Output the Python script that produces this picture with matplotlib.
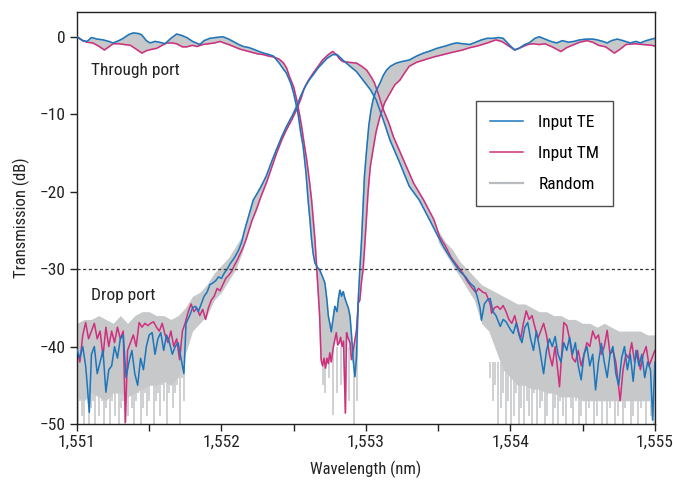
import numpy as np
import matplotlib
matplotlib.use("Agg")
import matplotlib.pyplot as plt
from matplotlib import font_manager as fm
from matplotlib.ticker import FuncFormatter, MultipleLocator

_names = {f.name for f in fm.fontManager.ttflist}
_cond = [f.name for f in fm.fontManager.ttflist if str(f.stretch) in ('condensed', 'semi-condensed', '75', '87.5')]
_fam = None
for cand in ['Liberation Sans Narrow', 'Roboto Condensed', 'Open Sans Condensed', 'DejaVu Sans Condensed']:
    if cand in _names:
        _fam = cand
        break
_stretch = 'normal'
if _fam is None and 'DejaVu Sans' in _cond:
    _fam = 'DejaVu Sans'
    _stretch = 'condensed'
if _fam is None:
    _fam = 'Roboto' if 'Roboto' in _names else 'Liberation Sans'
plt.rcParams['font.family'] = [_fam, 'DejaVu Sans']
plt.rcParams['font.stretch'] = _stretch

# ---------------- data ----------------
thr_te_x = [1551.00,1551.04,1551.07,1551.10,1551.14,1551.18,1551.22,1551.25,1551.29,1551.32,1551.36,1551.39,1551.43,1551.45,1551.48,1551.505,1551.54,1551.57,1551.61,1551.65,1551.69,1551.72,1551.76,1551.80,1551.85,1551.88,1551.92,1551.96,1552.01,1552.05,1552.08,1552.12,1552.15,1552.19,1552.22,1552.26,1552.29,1552.33,1552.36,1552.40,1552.43,1552.45,1552.48,1552.50,1552.53,1552.55,1552.566,1552.585,1552.60,1552.612,1552.624,1552.635,1552.647,1552.665,1552.68,1552.70,1552.716,1552.73,1552.74,1552.752,1552.76,1552.772,1552.785,1552.80,1552.81,1552.82,1552.832,1552.843,1552.855,1552.866,1552.878,1552.89,1552.90,1552.912,1552.924,1552.935,1552.947,1552.958,1552.97,1552.98,1552.99,1553.005,1553.02,1553.035,1553.05,1553.07,1553.097,1553.12,1553.143,1553.17,1553.21,1553.25,1553.30,1553.35,1553.40,1553.45,1553.49,1553.55,1553.60,1553.63,1553.67,1553.72,1553.76,1553.80,1553.84,1553.88,1553.92,1553.95,1553.99,1554.03,1554.06,1554.10,1554.13,1554.17,1554.20,1554.24,1554.28,1554.32,1554.36,1554.40,1554.44,1554.48,1554.53,1554.57,1554.60,1554.64,1554.67,1554.70,1554.74,1554.78,1554.83,1554.87,1554.90,1554.94,1554.98,1555.00]
thr_te_y = [0.0,-0.5,-0.6,-0.1,-0.3,-0.4,-0.6,-0.8,-0.5,-0.2,0.3,0.5,0.4,0.2,-0.5,-0.8,-0.6,-0.7,-0.9,-0.2,0.35,0.2,-0.1,-0.6,-1.0,-0.5,-0.2,-0.1,0.0,-0.3,-0.6,-1.0,-1.25,-1.4,-1.6,-1.9,-2.1,-2.3,-2.5,-3.4,-4.2,-4.7,-6.0,-7.3,-9.9,-12.5,-14.2,-17.5,-21.1,-23.5,-26.2,-28.0,-29.2,-29.8,-30.1,-31.0,-31.8,-34.0,-36.1,-37.2,-38.1,-36.5,-34.8,-35.5,-33.8,-32.7,-33.5,-32.9,-33.8,-34.4,-35.0,-36.1,-38.5,-41.7,-43.9,-41.3,-34.0,-30.1,-26.2,-22.0,-18.0,-14.6,-11.5,-9.5,-8.1,-7.0,-6.0,-5.0,-4.3,-3.8,-3.4,-3.2,-3.0,-2.5,-2.1,-1.8,-1.5,-1.2,-0.9,-0.8,-0.9,-1.0,-0.7,-0.4,-0.2,-0.2,-0.1,-0.2,-1.0,-1.7,-1.5,-1.0,-0.8,-0.2,0.0,-0.3,-0.6,-0.8,-0.5,-0.7,-0.6,-0.4,-0.3,-0.3,-0.4,-0.6,-0.8,-0.5,-0.3,-0.5,-0.8,-0.6,-0.8,-0.5,-0.3,-0.2]

thr_tm_x = [1551.00,1551.04,1551.07,1551.11,1551.15,1551.19,1551.22,1551.25,1551.29,1551.33,1551.37,1551.41,1551.45,1551.48,1551.52,1551.55,1551.58,1551.62,1551.66,1551.69,1551.73,1551.76,1551.80,1551.83,1551.87,1551.91,1551.95,1551.99,1552.02,1552.05,1552.09,1552.13,1552.17,1552.21,1552.25,1552.29,1552.33,1552.36,1552.40,1552.43,1552.45,1552.47,1552.50,1552.52,1552.54,1552.555,1552.57,1552.59,1552.61,1552.624,1552.635,1552.647,1552.659,1552.67,1552.68,1552.69,1552.70,1552.71,1552.72,1552.73,1552.74,1552.75,1552.76,1552.775,1552.785,1552.795,1552.805,1552.815,1552.825,1552.835,1552.845,1552.858,1552.866,1552.875,1552.89,1552.90,1552.912,1552.925,1552.935,1552.947,1552.958,1552.97,1552.98,1552.99,1553.00,1553.015,1553.03,1553.05,1553.07,1553.097,1553.13,1553.166,1553.20,1553.235,1553.27,1553.30,1553.35,1553.40,1553.47,1553.535,1553.60,1553.67,1553.72,1553.77,1553.84,1553.90,1553.94,1553.99,1554.03,1554.07,1554.12,1554.16,1554.20,1554.24,1554.29,1554.35,1554.39,1554.44,1554.48,1554.53,1554.57,1554.61,1554.66,1554.72,1554.76,1554.80,1554.86,1554.92,1554.98,1555.00]
thr_tm_y = [0.0,-0.5,-0.7,-0.8,-1.2,-1.7,-1.3,-0.9,-0.9,-1.0,-1.1,-1.6,-2.1,-1.8,-1.6,-1.5,-1.2,-0.8,-0.8,-0.9,-1.3,-1.3,-1.1,-1.25,-1.0,-0.9,-0.8,-0.6,-0.8,-1.0,-1.3,-1.6,-1.8,-2.0,-2.2,-2.3,-2.5,-2.6,-2.9,-3.4,-4.0,-5.1,-6.5,-8.1,-10.0,-11.6,-13.5,-15.9,-18.8,-21.1,-23.5,-26.2,-29.7,-33.0,-36.1,-41.7,-42.5,-41.5,-42.8,-41.5,-42.2,-40.8,-42.0,-40.0,-39.1,-38.2,-39.8,-39.5,-38.8,-40.0,-39.3,-48.6,-38.2,-38.8,-39.5,-41.7,-40.5,-39.0,-37.9,-34.4,-34.0,-31.5,-30.1,-27.5,-24.5,-20.0,-16.8,-14.5,-12.3,-10.3,-8.5,-7.3,-6.2,-5.6,-4.6,-3.8,-3.3,-3.0,-2.6,-2.3,-2.0,-1.7,-1.4,-1.2,-0.8,-0.4,-0.6,-1.2,-1.7,-1.4,-1.0,-0.9,-1.0,-0.9,-1.3,-1.9,-1.4,-1.0,-0.7,-0.5,-0.7,-1.1,-1.3,-2.1,-1.6,-1.0,-0.9,-1.0,-1.1,-1.2]

drop_te_x = [1551.00,1551.02,1551.04,1551.06,1551.07,1551.085,1551.10,1551.12,1551.14,1551.16,1551.18,1551.20,1551.22,1551.24,1551.26,1551.28,1551.30,1551.32,1551.34,1551.36,1551.38,1551.40,1551.42,1551.44,1551.46,1551.48,1551.50,1551.52,1551.54,1551.56,1551.58,1551.60,1551.62,1551.64,1551.66,1551.68,1551.70,1551.72,1551.74,1551.755,1551.78,1551.80,1551.82,1551.84,1551.86,1551.88,1551.90,1551.92,1551.94,1551.96,1551.98,1552.00,1552.02,1552.04,1552.06,1552.08,1552.10,1552.12,1552.14,1552.16,1552.22,1552.27,1552.31,1552.35,1552.38,1552.42,1552.45,1552.49,1552.52,1552.55,1552.58,1552.61,1552.635,1552.67,1552.70,1552.73,1552.77,1552.80,1552.84,1552.89,1552.935,1552.98,1553.03,1553.07,1553.12,1553.166,1553.235,1553.30,1553.37,1553.44,1553.50,1553.54,1553.58,1553.62,1553.65,1553.69,1553.72,1553.75,1553.77,1553.79,1553.80,1553.82,1553.84,1553.86,1553.88,1553.90,1553.93,1553.95,1553.97,1554.00,1554.02,1554.04,1554.06,1554.08,1554.10,1554.12,1554.14,1554.16,1554.18,1554.20,1554.23,1554.25,1554.27,1554.29,1554.31,1554.33,1554.35,1554.37,1554.39,1554.41,1554.43,1554.45,1554.47,1554.49,1554.51,1554.53,1554.55,1554.57,1554.59,1554.61,1554.63,1554.65,1554.67,1554.69,1554.71,1554.73,1554.75,1554.77,1554.79,1554.81,1554.83,1554.85,1554.87,1554.89,1554.91,1554.93,1554.95,1554.97,1554.985,1555.00]
drop_te_y = [-40.4,-41.5,-40.0,-42.5,-44.7,-48.5,-41.0,-40.0,-43.5,-42.0,-40.5,-45.9,-43.0,-42.5,-40.0,-41.5,-39.0,-38.5,-44.0,-42.0,-40.5,-43.5,-45.0,-41.5,-43.0,-40.0,-38.5,-38.2,-41.0,-39.0,-38.2,-40.5,-38.5,-39.5,-41.0,-40.0,-39.5,-41.5,-43.5,-37.0,-36.0,-35.0,-34.8,-35.5,-34.5,-33.5,-33.0,-32.0,-31.8,-31.5,-31.0,-31.2,-30.5,-30.0,-29.3,-28.8,-28.2,-27.5,-26.5,-25.0,-21.1,-19.5,-18.0,-16.0,-14.6,-12.8,-11.6,-10.2,-9.0,-7.6,-6.4,-5.5,-4.9,-4.0,-3.4,-2.8,-2.3,-2.3,-3.0,-3.8,-4.5,-5.6,-6.8,-8.1,-10.7,-13.3,-16.3,-19.3,-21.1,-23.6,-25.8,-27.2,-28.4,-29.5,-30.3,-31.0,-31.8,-32.3,-33.5,-35.0,-36.6,-34.5,-34.0,-33.8,-35.5,-36.0,-37.4,-36.5,-36.8,-37.8,-38.3,-37.0,-38.5,-39.5,-37.5,-36.9,-39.0,-40.5,-38.0,-40.0,-43.5,-40.5,-39.0,-40.0,-38.7,-41.0,-42.0,-39.5,-40.5,-38.8,-41.0,-39.5,-42.5,-44.3,-41.0,-40.0,-42.5,-41.0,-45.6,-42.0,-39.6,-42.0,-44.0,-41.0,-40.0,-43.5,-45.0,-41.5,-40.0,-43.0,-41.0,-44.5,-40.5,-42.5,-41.0,-44.0,-42.0,-43.0,-49.5,-42.0]

drop_tm_x = [1551.00,1551.02,1551.04,1551.06,1551.08,1551.10,1551.12,1551.14,1551.16,1551.18,1551.20,1551.22,1551.24,1551.26,1551.28,1551.30,1551.32,1551.335,1551.35,1551.37,1551.39,1551.41,1551.43,1551.45,1551.47,1551.49,1551.51,1551.53,1551.55,1551.57,1551.59,1551.61,1551.63,1551.65,1551.67,1551.69,1551.71,1551.73,1551.75,1551.77,1551.79,1551.81,1551.83,1551.85,1551.87,1551.89,1551.91,1551.93,1551.95,1551.97,1551.99,1552.01,1552.03,1552.05,1552.07,1552.09,1552.11,1552.13,1552.15,1552.17,1552.21,1552.24,1552.27,1552.31,1552.34,1552.38,1552.42,1552.45,1552.49,1552.52,1552.55,1552.57,1552.60,1552.635,1552.67,1552.70,1552.74,1552.77,1552.80,1552.82,1552.84,1552.88,1552.935,1552.97,1553.005,1553.04,1553.06,1553.09,1553.12,1553.16,1553.19,1553.26,1553.33,1553.40,1553.47,1553.51,1553.55,1553.59,1553.63,1553.67,1553.70,1553.73,1553.76,1553.78,1553.81,1553.83,1553.85,1553.86,1553.87,1553.89,1553.91,1553.93,1553.95,1553.97,1553.99,1554.01,1554.03,1554.05,1554.07,1554.09,1554.11,1554.13,1554.15,1554.17,1554.19,1554.21,1554.23,1554.25,1554.27,1554.29,1554.31,1554.34,1554.37,1554.39,1554.41,1554.43,1554.45,1554.47,1554.49,1554.51,1554.53,1554.55,1554.57,1554.59,1554.61,1554.63,1554.65,1554.67,1554.69,1554.71,1554.73,1554.76,1554.78,1554.80,1554.82,1554.84,1554.86,1554.88,1554.90,1554.92,1554.94,1554.96,1554.98,1555.00]
drop_tm_y = [-40.4,-42.0,-38.5,-36.9,-39.0,-38.0,-37.0,-39.0,-38.0,-41.3,-37.5,-40.0,-38.0,-39.5,-37.5,-39.0,-38.0,-49.8,-40.5,-39.5,-38.5,-40.0,-36.9,-37.5,-37.0,-37.3,-37.0,-36.8,-37.5,-38.0,-37.0,-38.5,-39.5,-38.0,-40.0,-39.0,-41.7,-38.0,-36.9,-35.5,-34.5,-35.5,-35.0,-36.0,-35.2,-36.5,-35.0,-34.0,-33.5,-32.5,-32.8,-32.0,-31.2,-30.8,-30.3,-29.5,-28.8,-28.0,-27.2,-26.2,-23.8,-22.4,-20.8,-18.9,-17.3,-15.1,-13.2,-12.0,-10.6,-9.4,-8.0,-6.8,-5.7,-4.7,-3.8,-3.0,-2.3,-1.9,-2.4,-2.9,-3.2,-3.3,-3.4,-3.8,-4.3,-5.3,-6.0,-7.6,-9.4,-11.2,-12.9,-15.9,-18.9,-21.1,-23.6,-25.8,-27.0,-28.5,-29.5,-30.5,-31.5,-32.3,-33.0,-32.5,-33.0,-33.1,-34.0,-34.5,-35.7,-35.0,-34.8,-35.2,-34.7,-35.5,-36.5,-37.0,-36.0,-37.5,-39.1,-37.0,-35.4,-36.5,-36.0,-37.5,-39.0,-38.0,-37.0,-38.5,-41.0,-42.5,-40.0,-45.2,-36.9,-37.3,-39.0,-41.5,-42.0,-40.5,-42.5,-41.0,-39.5,-40.0,-38.0,-39.0,-38.5,-41.0,-40.0,-37.9,-41.0,-40.5,-42.0,-47.0,-43.0,-41.0,-41.5,-39.5,-42.0,-40.5,-43.0,-41.0,-40.0,-42.5,-41.5,-40.5]

# "Random" polarisation: noisy envelope in the drop-port tails
rnd_left_x = [1551.00,1551.05,1551.10,1551.15,1551.20,1551.25,1551.30,1551.35,1551.40,1551.45,1551.50,1551.55,1551.60,1551.65,1551.70,1551.75,1551.80,1551.85,1551.90,1551.95,1552.00,1552.05,1552.10,1552.15]
rnd_left_hi = [-37.0,-36.5,-36.5,-36.0,-36.5,-37.0,-36.0,-37.0,-36.0,-35.5,-35.5,-36.0,-36.0,-36.5,-36.0,-35.0,-33.5,-33.0,-32.0,-30.5,-29.5,-28.5,-27.0,-25.5]
rnd_left_lo = [-46.5,-47.0,-46.0,-46.5,-47.0,-46.0,-46.0,-46.5,-46.0,-45.5,-45.0,-45.0,-44.5,-45.0,-44.0,-41.0,-38.0,-37.0,-36.0,-34.0,-33.0,-31.5,-30.0,-27.5]
rnd_right_x = [1553.50,1553.55,1553.60,1553.65,1553.70,1553.75,1553.80,1553.85,1553.90,1553.95,1554.00,1554.05,1554.10,1554.15,1554.20,1554.25,1554.30,1554.35,1554.40,1554.45,1554.50,1554.55,1554.60,1554.65,1554.70,1554.75,1554.80,1554.85,1554.90,1554.95,1555.00]
rnd_right_hi = [-25.0,-26.5,-27.5,-29.0,-30.0,-31.0,-32.0,-32.5,-33.0,-33.5,-34.0,-34.5,-34.5,-35.0,-35.5,-35.5,-36.0,-36.0,-36.5,-36.5,-37.0,-37.0,-37.5,-37.0,-37.5,-38.0,-38.0,-38.0,-38.0,-38.5,-38.5]
rnd_right_lo = [-26.5,-28.0,-29.5,-31.0,-32.5,-34.0,-37.0,-38.0,-40.5,-43.0,-44.0,-45.0,-45.0,-45.5,-45.5,-46.0,-46.0,-46.5,-46.5,-46.5,-47.0,-47.0,-47.0,-47.0,-47.0,-47.0,-47.0,-47.0,-47.0,-47.0,-47.0]

spk_left_x = [1551.005,1551.02,1551.035,1551.05,1551.065,1551.08,1551.095,1551.11,1551.125,1551.14,1551.155,1551.17,1551.185,1551.20,1551.215,1551.23,1551.245,1551.26,1551.275,1551.29,1551.305,1551.32,1551.335,1551.35,1551.365,1551.38,1551.395,1551.41,1551.425,1551.44,1551.455,1551.47,1551.485,1551.50,1551.515,1551.53,1551.545,1551.56,1551.575,1551.59,1551.605,1551.62,1551.635,1551.65,1551.665,1551.68,1551.695,1551.71,1551.725,1551.74]
spk_left_lo = [-50,-47,-49,-50,-46,-50,-48,-47,-50,-46,-49,-47,-50,-48,-46,-50,-47,-49,-46,-50,-48,-47,-50,-49,-46,-48,-50,-47,-46,-50,-48,-46,-49,-47,-45,-50,-47,-46,-49,-45,-47,-50,-46,-45,-48,-46,-45,-50,-44,-47]
spk_mid_x = [1552.70,1552.72,1552.745,1552.77,1552.80,1552.83,1552.88,1552.915,1552.94]
spk_mid_lo = [-45,-46,-44,-48.8,-46,-45,-47,-50,-47]
spk_right_x = [1553.86,1553.878,1553.896,1553.914,1553.932,1553.95,1553.968,1553.986,1554.004,1554.022,1554.04,1554.058,1554.076,1554.094,1554.112,1554.13,1554.148,1554.166,1554.184,1554.202,1554.22,1554.238,1554.256,1554.274,1554.292,1554.31,1554.328,1554.346,1554.364,1554.382,1554.40,1554.418,1554.436,1554.454,1554.472,1554.49,1554.508,1554.526,1554.544,1554.562,1554.58,1554.598,1554.616,1554.634,1554.652,1554.67,1554.688,1554.706,1554.724,1554.742,1554.76,1554.778,1554.796,1554.814,1554.832,1554.85,1554.868,1554.886,1554.904,1554.922,1554.94,1554.958,1554.976,1554.994]
spk_right_lo = [-44,-47,-45,-50,-48,-46,-50,-47,-50,-49,-46,-50,-48,-50,-47,-49,-50,-46,-50,-48,-47,-50,-49,-46,-50,-48,-50,-47,-49,-50,-46,-48,-50,-47,-50,-49,-46,-50,-48,-47,-50,-49,-46,-50,-47,-50,-48,-46,-50,-49,-47,-50,-48,-46,-50,-49,-47,-50,-48,-47,-50,-46,-49,-50]

xticks = [1551, 1552, 1553, 1554, 1555]
yticks = [0, -10, -20, -30, -40, -50]
threshold = -30

# ---------------- plot ----------------
TE_C = '#1b76bd'
TM_C = '#cf2f7d'
GR_C = '#c6c8ca'
TXT = '#222222'

fig = plt.figure(figsize=(6.73, 4.80), dpi=100)
ax = fig.add_axes([0.1144, 0.1167, 0.8586, 0.8583])

def band(xa, ya, xb, yb):
    px = np.concatenate([np.asarray(xa), np.asarray(xb)[::-1]])
    py = np.concatenate([np.asarray(ya), np.asarray(yb)[::-1]])
    ax.fill(px, py, color=GR_C, lw=1.2, ec=GR_C, zorder=1)

band(thr_te_x, thr_te_y, thr_tm_x, thr_tm_y)
band(drop_te_x, drop_te_y, drop_tm_x, drop_tm_y)
ax.fill_between(rnd_left_x, rnd_left_lo, rnd_left_hi, color=GR_C, lw=0, zorder=1)
ax.fill_between(rnd_right_x, rnd_right_lo, rnd_right_hi, color=GR_C, lw=0, zorder=1)
ax.vlines(spk_left_x, spk_left_lo, -42, color=GR_C, lw=1.2, zorder=1)
ax.vlines(spk_mid_x, spk_mid_lo, -40, color=GR_C, lw=1.2, zorder=1)
ax.vlines(spk_right_x, spk_right_lo, -42, color=GR_C, lw=1.2, zorder=1)

ax.plot(thr_te_x, thr_te_y, color=TE_C, lw=1.1, zorder=3)
ax.plot(drop_te_x, drop_te_y, color=TE_C, lw=1.1, zorder=3, label='Input TE')
ax.plot(thr_tm_x, thr_tm_y, color=TM_C, lw=1.1, zorder=2)
ax.plot(drop_tm_x, drop_tm_y, color=TM_C, lw=1.1, zorder=2, label='Input TM')
ax.plot([], [], color='#b8bcc1', lw=1.6, label='Random')

ax.axhline(threshold, color='#333333', lw=0.9, ls=(0, (2.5, 2)), zorder=4)

ax.set_xlim(1551, 1555)
ax.set_ylim(-50, 3.2)
ax.set_xticks(xticks)
ax.xaxis.set_minor_locator(MultipleLocator(0.5))
ax.set_yticks(yticks)
ax.xaxis.set_major_formatter(FuncFormatter(lambda v, p: f"{int(round(v)):,}"))
ax.yaxis.set_major_formatter(FuncFormatter(lambda v, p: ("\u2212" if v < 0 else "") + f"{abs(int(round(v)))}"))
ax.tick_params(axis='both', which='major', direction='out', length=5, width=1.0, labelsize=12.5, colors=TXT, pad=3)
ax.tick_params(axis='x', which='minor', direction='out', length=5, width=1.0, colors=TXT)
for s in ax.spines.values():
    s.set_linewidth(1.0)
    s.set_color(TXT)

ax.set_xlabel('Wavelength (nm)', fontsize=12, color=TXT, labelpad=7.5)
ax.set_ylabel('Transmission (dB)', fontsize=12, color=TXT, labelpad=7)

ax.text(0.025, 0.859, 'Through port', transform=ax.transAxes, fontsize=12.5, color=TXT, va='center', ha='left')
ax.text(0.025, 0.311, 'Drop port', transform=ax.transAxes, fontsize=12.5, color=TXT, va='center', ha='left')

leg = ax.legend(loc='upper left', bbox_to_anchor=(0.69, 0.783), frameon=True, fancybox=False,
                edgecolor=TXT, fontsize=12.5, handlelength=1.9, handletextpad=0.9,
                labelspacing=0.9, borderpad=0.8, borderaxespad=0)
leg.get_frame().set_linewidth(1.0)

fig.savefig('out.png', dpi=100)
